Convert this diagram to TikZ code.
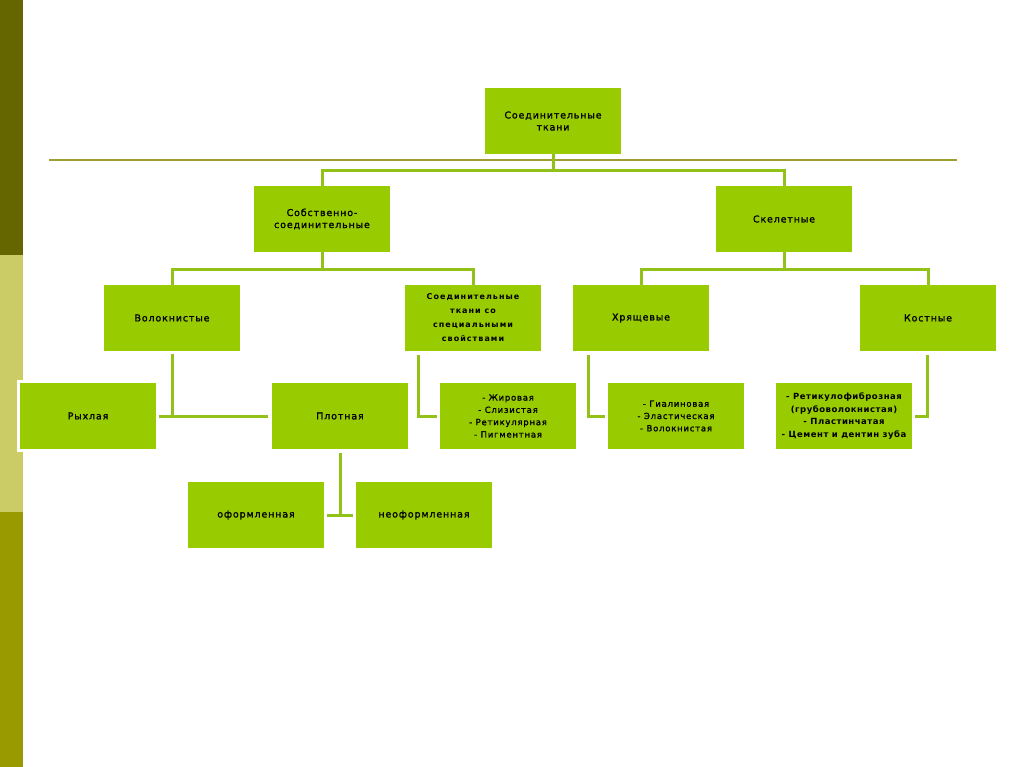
\documentclass[tikz,border=0pt]{standalone}
\usepackage{fontspec}
\usepackage{xcolor}
\usepackage{tikz}
\setmainfont{DejaVu Sans}[LetterSpace=9, FakeBold=1.2]
\newfontfamily\boldspaced{DejaVu Sans Bold}[LetterSpace=13]
\newfontfamily\listbold{DejaVu Sans Bold}[LetterSpace=6]
\usetikzlibrary{positioning}

\definecolor{boxgreen}{HTML}{99CC00}
\definecolor{linkgreen}{HTML}{92C117}
\definecolor{rulecolor}{HTML}{A0A032}
\definecolor{bartop}{HTML}{666600}
\definecolor{barmid}{HTML}{CCCC66}
\definecolor{barbot}{HTML}{999900}

\begin{document}
\begin{tikzpicture}[
        x=1pt, y=-1pt,
        box/.style={rectangle, fill=boxgreen, minimum width=136pt, minimum height=66pt, inner sep=1pt, align=center, font=\fontsize{9.5}{12}\selectfont},
        listbox/.style={box, font=\fontsize{8.5}{12.3}\selectfont},
        link/.style={draw=linkgreen, line width=3pt},
        rule/.style={draw=rulecolor, line width=2.5pt}
    ]
        % ================= FON =================
        \fill[white] (0,0) rectangle (1024,767);
        \useasboundingbox (0,0) rectangle (1024,767);
        \fill[bartop] (0,0) rectangle (23,255);
        \fill[barmid] (0,255) rectangle (23,512);
        \fill[barbot] (0,512) rectangle (23,767);
        \draw[rule] (49,160) -- (957,160);

        % ================= VERKHNIE UROVNI =================
        \node[box] (tkani) at (553,121) {Соединительные\\ткани};
        \node[box] (sobstv) at (322,219) {Собственно-\\соединительные};
        \node[box] (skelet) at (784,219) {Скелетные};

        \node[box] (volokn) at (172,318) {Волокнистые};
        \node[box, font=\boldspaced\fontsize{8}{14}\selectfont] (special) at (473,318) {Соединительные\\ткани со\\специальными\\свойствами};
        \node[box] (hrjasch) at (641,318) {Хрящевые};
        \node[box] (kostn) at (928,318) {Костные};

        % ================= NIZHNIE UROVNI =================
        \node[box, draw=white, line width=3pt, minimum width=139pt, minimum height=69pt] (ryhl) at (88,416) {Рыхлая};
        \node[box] (plotn) at (340,416) {Плотная};
        \node[listbox] (zhir) at (508,416) {- Жировая\\- Слизистая\\- Ретикулярная\\- Пигментная};
        \node[listbox] (gial) at (676,416) {- Гиалиновая\\- Эластическая\\- Волокнистая};
        \node[listbox, font=\listbold\fontsize{8.5}{12.5}\selectfont] (retik) at (844,416) {- Ретикулофиброзная\\(грубоволокнистая)\\- Пластинчатая\\- Цемент и дентин зуба};

        \node[box] (oform) at (256,515) {оформленная};
        \node[box] (neoform) at (424,515) {неоформленная};

        % ================= SVYAZI =================
        \coordinate (topfork) at (553,171);
        \coordinate (sobfork) at (322,269);
        \coordinate (skelfork) at (784,269);
        \coordinate (volfork) at (172,416);
        \coordinate (plotfork) at (340,516);

        \draw[link] (tkani.south) -- (topfork);
        \draw[link] (sobstv.north) |- (topfork) -| (skelet.north);

        \draw[link] (sobstv.south) -- (sobfork);
        \draw[link] (volokn.north) |- (sobfork) -| (special.north);
        \draw[link] (skelet.south) -- (skelfork);
        \draw[link] (hrjasch.north) |- (skelfork) -| (kostn.north);

        \draw[link, shorten <=3pt] (volokn.south) -- (volfork);
        \draw[link, shorten >=4pt] (ryhl.east) -- (plotn.west);

        \draw[link, shorten <=4pt] ([xshift=-55pt]special.south) |- ([xshift=-3pt]zhir.west);
        \draw[link, shorten <=4pt] ([xshift=-53pt]hrjasch.south) |- ([xshift=-3pt]gial.west);
        \draw[link, shorten <=4pt] ([xshift=-1pt]kostn.south) |- ([xshift=3pt]retik.east);

        \draw[link, shorten <=4pt] (plotn.south) -- (plotfork);
        \draw[link, shorten <=3pt, shorten >=3pt] (oform.east) -- (neoform.west);
    \end{tikzpicture}
\end{document}
